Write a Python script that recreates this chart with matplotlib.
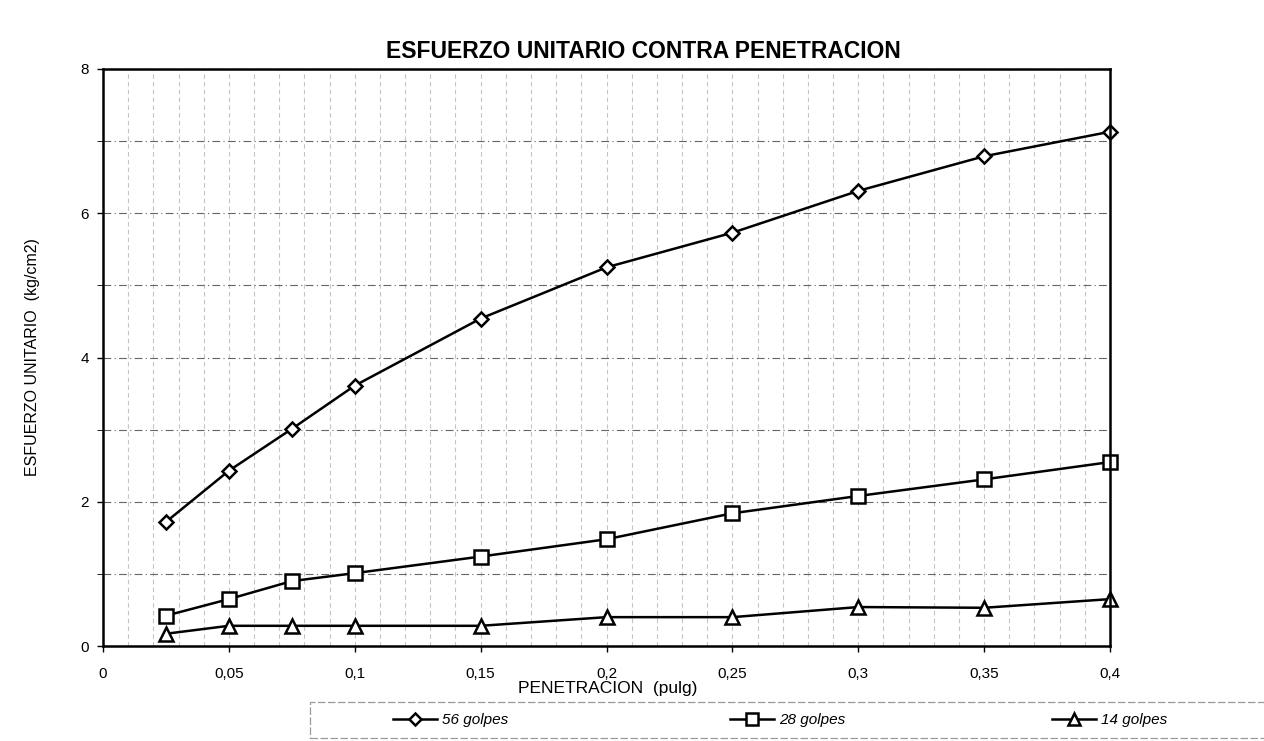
import matplotlib
matplotlib.use("Agg")
import matplotlib.pyplot as plt
from matplotlib.patches import Rectangle
from matplotlib.ticker import MultipleLocator

plt.rcParams['font.family'] = ['Liberation Sans', 'DejaVu Sans']

penetracion = [0.025, 0.05, 0.075, 0.1, 0.15, 0.2, 0.25, 0.3, 0.35, 0.4]
golpes_56 = [1.72, 2.43, 3.01, 3.61, 4.54, 5.25, 5.73, 6.31, 6.79, 7.13]
golpes_28 = [0.42, 0.65, 0.90, 1.01, 1.24, 1.48, 1.84, 2.08, 2.31, 2.55]
golpes_14 = [0.17, 0.28, 0.28, 0.28, 0.28, 0.40, 0.40, 0.54, 0.53, 0.65]
series_labels = ['56 golpes', '28 golpes', '14 golpes']
x_ticks = [0, 0.05, 0.1, 0.15, 0.2, 0.25, 0.3, 0.35, 0.4]
x_tick_labels = ['0', '0,05', '0,1', '0,15', '0,2', '0,25', '0,3', '0,35', '0,4']
y_ticks = [0, 2, 4, 6, 8]

W, H = 1264, 741
fig = plt.figure(figsize=(W / 100, H / 100), dpi=100)
ax = fig.add_axes([103 / W, 1 - 646 / H, (1110 - 103) / W, (646 - 69) / H])

ax.set_xlim(0, 0.4)
ax.set_ylim(0, 8)

# grids
ax.xaxis.set_minor_locator(MultipleLocator(0.01))
ax.yaxis.set_minor_locator(MultipleLocator(1))
ax.set_xticks(x_ticks)
ax.set_xticklabels(x_tick_labels)
ax.set_yticks(y_ticks)
ax.set_yticklabels([str(v) for v in y_ticks])
ax.grid(which='both', axis='x', color='#c4c4c4', linestyle=(0, (4, 3)), linewidth=0.8)
ax.grid(which='both', axis='y', color='#666666', linestyle=(0, (7, 3, 1, 3)), linewidth=0.8)
ax.set_axisbelow(True)

ax.tick_params(axis='both', which='major', labelsize=11, length=4, direction='out', width=1)
ax.tick_params(axis='x', which='major', pad=11)
ax.tick_params(axis='y', which='major', pad=6)
ax.tick_params(axis='x', which='minor', length=0)
ax.tick_params(axis='y', which='minor', length=4, direction='out')
for s in ax.spines.values():
    s.set_linewidth(1.8)
    s.set_color('black')

mk = dict(markerfacecolor='white', markeredgecolor='black', markeredgewidth=1.8, color='black', linewidth=1.8)
l1, = ax.plot(penetracion, golpes_56, marker='D', markersize=7.5, label=series_labels[0], **mk)
l2, = ax.plot(penetracion, golpes_28, marker='s', markersize=10, label=series_labels[1], **mk)
l3, = ax.plot(penetracion, golpes_14, marker='^', markersize=10, label=series_labels[2], **mk)
for l in (l1, l2, l3):
    l.set_clip_on(False)

fig.text(643 / W, 1 - 52 / H, 'ESFUERZO UNITARIO CONTRA PENETRACION', ha='center', va='center',
         fontsize=16.5, fontweight='bold')
fig.text(608 / W, 1 - 688 / H, 'PENETRACION  (pulg)', ha='center', va='center', fontsize=12.5)
fig.text(33 / W, 1 - 357 / H, 'ESFUERZO UNITARIO  (kg/cm2)', ha='center', va='center',
         rotation=90, fontsize=11.5)

# legend frame
fig.patches.append(Rectangle((310 / W, 1 - 738 / H), (W - 310) / W + 0.01, 36 / H,
                             transform=fig.transFigure, fill=False, edgecolor='#9a9a9a',
                             linestyle=(0, (6, 2)), linewidth=0.9))

starts = [393, 730, 1052]
for line, lab, x0 in zip((l1, l2, l3), series_labels, starts):
    fig.legend([line], [lab], loc='center left',
               bbox_to_anchor=(x0 / W, 1 - 720 / H), frameon=False,
               handlelength=2.9, handletextpad=0.3, borderpad=0, borderaxespad=0,
               prop={'size': 11, 'style': 'italic'}, markerscale=0.8)

fig.savefig('out.png', dpi=100, facecolor='white')
